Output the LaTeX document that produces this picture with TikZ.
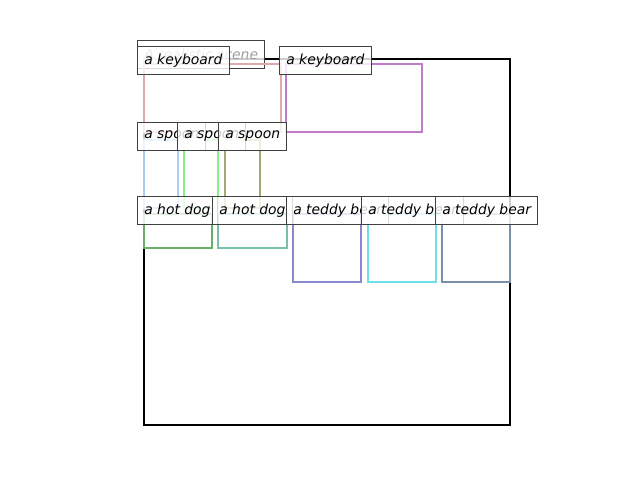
\documentclass[tikz,border=0pt]{standalone}
\usepackage{fontspec}
\setmainfont{DejaVu Sans}
\begin{document}
\begin{tikzpicture}[x=0.72pt,y=-0.72pt,
  lbl/.style={draw=black!75,line width=0.7pt,fill=white,fill opacity=0.8,text opacity=1,
    anchor=north west,minimum height=20.16pt,inner xsep=4.9pt,inner ysep=0pt,
    font=\fontsize{10pt}{12pt}\itshape},
  obj/.style={line width=1.45pt}]
\useasboundingbox (0,0) rectangle (640,480);
\definecolor{ckbA}{HTML}{DCAAAA}
\definecolor{ckbB}{HTML}{C07CC8}
\definecolor{cspA}{HTML}{A8CCF2}
\definecolor{cspB}{HTML}{88EE88}
\definecolor{cspC}{HTML}{A8A870}
\definecolor{chdA}{HTML}{68B068}
\definecolor{chdB}{HTML}{78C0A8}
\definecolor{ctbA}{HTML}{8888CC}
\definecolor{ctbB}{HTML}{70E0E8}
\definecolor{ctbC}{HTML}{7890A8}
% main frame
\draw[line width=1.6pt,black] (144,59) rectangle (510,425);
% title
\node[lbl,text=black!38] (title) at (137,40) {A realistic scene};
% object boxes
\draw[obj,ckbA] (144,64) rectangle (281,132);
\draw[obj,ckbB] (286,64) rectangle (422,132);
\draw[obj,cspA] (144,140) rectangle (178,208);
\draw[obj,cspB] (184,140) rectangle (218,208);
\draw[obj,cspC] (225,140) rectangle (260,208);
\draw[obj,chdA] (144,214) rectangle (212,248);
\draw[obj,chdB] (218,214) rectangle (287,248);
\draw[obj,ctbA] (293,214) rectangle (361,282);
\draw[obj,ctbB] (368,214) rectangle (436,282);
\draw[obj,ctbC] (442,214) rectangle (510,282);
% labels
\node[lbl] (kb1) at (137,46) {a keyboard};
\node[lbl] (kb2) at (279,46) {a keyboard};
\node[lbl] (sp1) at (137,122) {a spoon};
\node[lbl] (sp2) at (177,122) {a spoon};
\node[lbl] (sp3) at (218,122) {a spoon};
\node[lbl] (hd1) at (137,196) {a hot dog};
\node[lbl] (hd2) at (212,196) {a hot dog};
\node[lbl] (tb1) at (286,196) {a teddy bear};
\node[lbl] (tb2) at (361,196) {a teddy bear};
\node[lbl] (tb3) at (435,196) {a teddy bear};
\end{tikzpicture}
\end{document}
